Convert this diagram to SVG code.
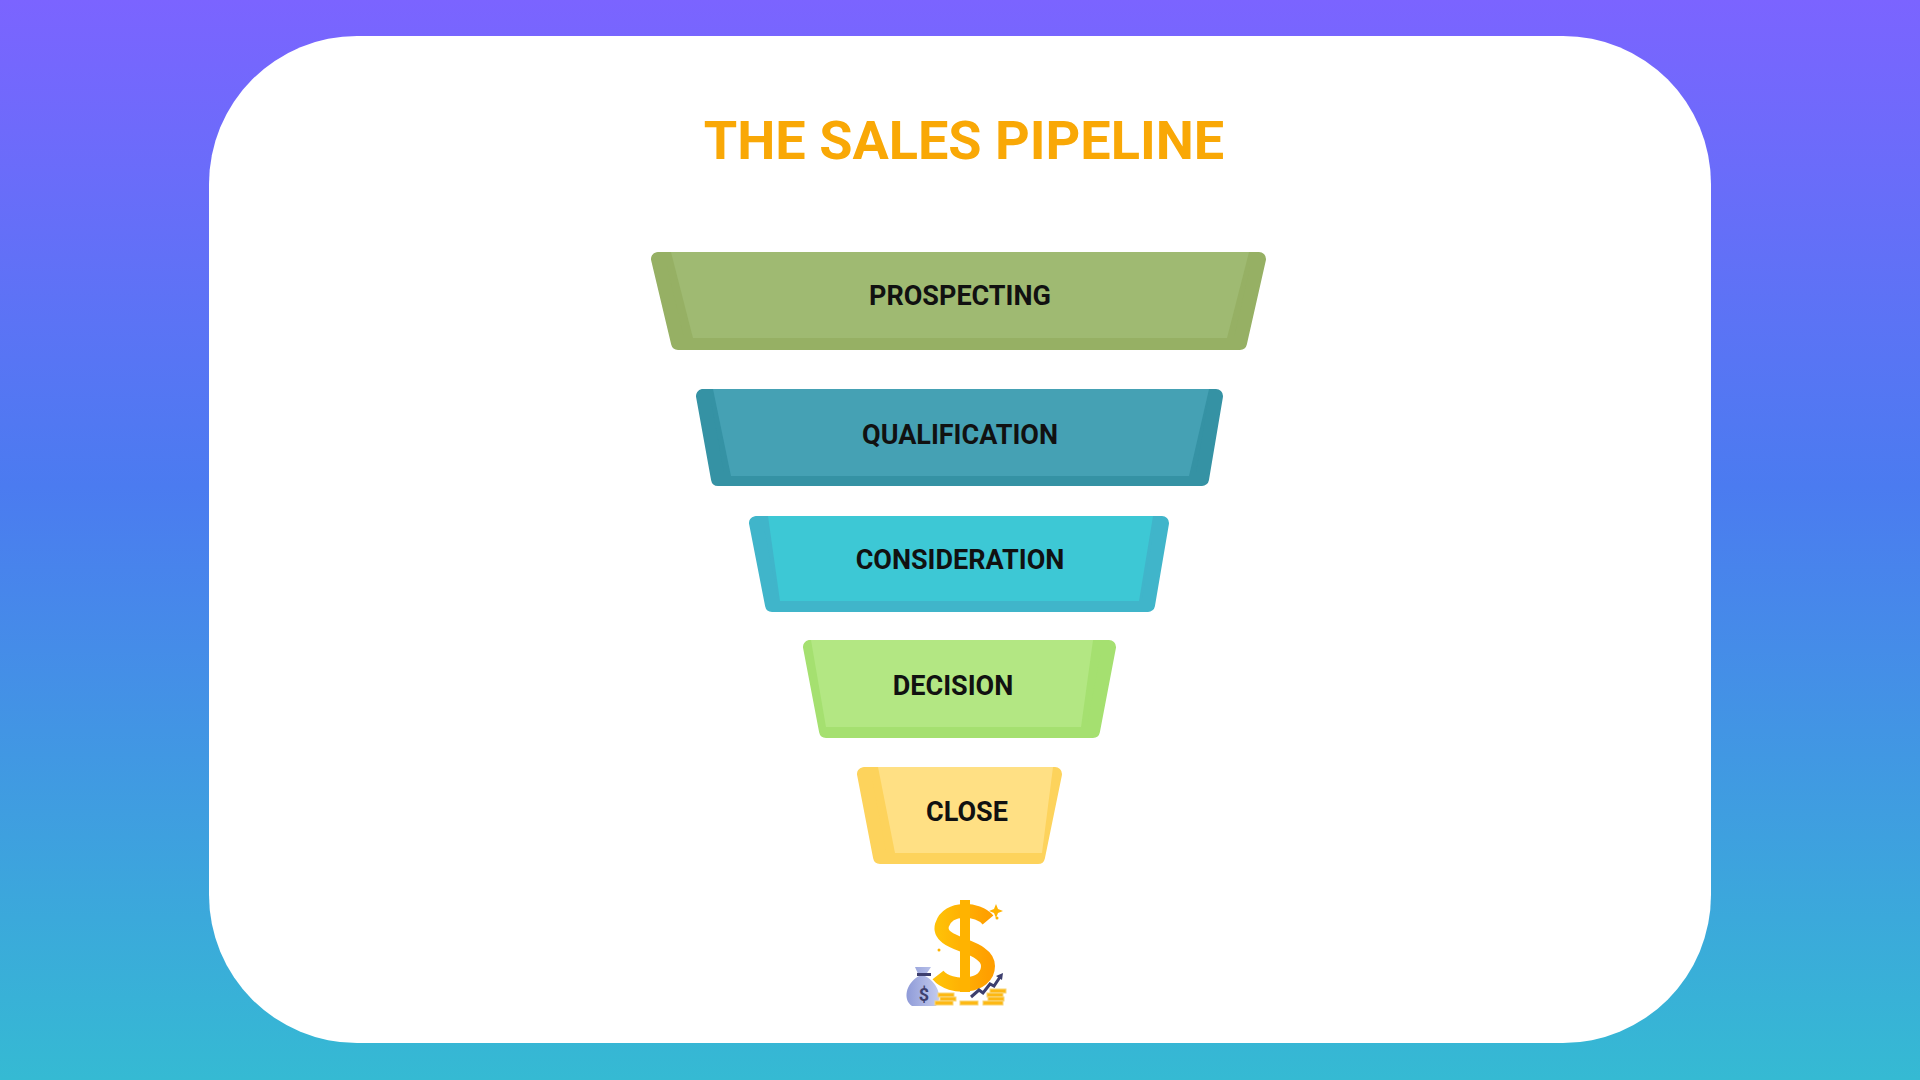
<svg xmlns="http://www.w3.org/2000/svg" width="1920" height="1080" viewBox="0 0 1920 1080">
<defs>
<linearGradient id="bg" x1="0" y1="0" x2="0" y2="1"><stop offset="0" stop-color="#7B64FF"/><stop offset="0.45" stop-color="#4B7BF0"/><stop offset="1" stop-color="#35BAD3"/></linearGradient>
<linearGradient id="gold" x1="0" y1="0" x2="1" y2="0"><stop offset="0" stop-color="#FFC107"/><stop offset="1" stop-color="#FF9F00"/></linearGradient>
<linearGradient id="bag" x1="0" y1="0" x2="1" y2="0"><stop offset="0" stop-color="#8F9BD8"/><stop offset="1" stop-color="#C3CBEE"/></linearGradient>
</defs>
<style>
.lbl{font-family:Roboto,"Liberation Sans",sans-serif;font-weight:700;font-size:27px;fill:#111;text-anchor:middle;dominant-baseline:central}
.o{stroke-linejoin:round;stroke-width:14}
.coin{fill:#FDB813;stroke:#F7D57A;stroke-width:1}
</style>
<rect width="1920" height="1080" fill="url(#bg)"/>
<rect x="209" y="36" width="1502" height="1007" rx="148" fill="#fff"/>
<text x="964" y="140" font-family="Roboto,'Liberation Sans',sans-serif" font-weight="700" font-size="54" fill="#F9A806" text-anchor="middle" dominant-baseline="central">THE SALES PIPELINE</text>
<g id="prospecting">
<polygon class="o" points="658,259 1259,259 1240,343 678,343" fill="#96B064" stroke="#96B064"/>
<polygon points="671,252 1249,252 1227,338 693,338" fill="#9FBA72"/>
<text class="lbl" x="960" y="296">PROSPECTING</text>
</g>
<g id="qualification">
<polygon class="o" points="703,396 1216,396 1202,479 718,479" fill="#3592A4" stroke="#3592A4"/>
<polygon points="713,389 1209,389 1189,476 731,476" fill="#45A1B4"/>
<text class="lbl" x="960" y="435">QUALIFICATION</text>
</g>
<g id="consideration">
<polygon class="o" points="756,523 1162,523 1148,605 772,605" fill="#40B5CA" stroke="#40B5CA"/>
<polygon points="768,516 1153,516 1139,601 780,601" fill="#3DC8D5"/>
<text class="lbl" x="960" y="560">CONSIDERATION</text>
</g>
<g id="decision">
<polygon class="o" points="810,647 1109,647 1093,731 826,731" fill="#A5E070" stroke="#A5E070"/>
<polygon points="811,640 1093,640 1081,727 826,727" fill="#B3E783"/>
<text class="lbl" x="953" y="686">DECISION</text>
</g>
<g id="close">
<polygon class="o" points="864,774 1055,774 1038,857 880,857" fill="#FDD35C" stroke="#FDD35C"/>
<polygon points="878,767 1053,767 1042,853 895,853" fill="#FFE084"/>
<text class="lbl" x="967" y="812">CLOSE</text>
</g>
<g id="money-icon">
<path d="M988,920 C978,908 948,906 942,925 C936,946 988,944 988,966 C988,988 950,990 938,975" fill="none" stroke="url(#gold)" stroke-width="14" stroke-linecap="butt"/>
<rect x="960" y="900" width="10" height="92" fill="#FFB300"/>
<path d="M994,909 l2,-5 2,5 5,2 -5,2 -2,5 -2,-5 -5,-2z" fill="#FFB300"/>
<circle cx="997" cy="918" r="1.5" fill="#FFB300"/>
<circle cx="939" cy="950" r="1.5" fill="#FFB300"/>
<path d="M915,967 L931,967 L925,976 C940,984 942,1000 936,1006 L912,1006 C903,1000 905,984 919,976z" fill="url(#bag)"/>
<rect x="917" y="973" width="14" height="3" fill="#3D3F6E"/>
<text x="924" y="994" font-family="Roboto,sans-serif" font-weight="700" font-size="18" fill="#3D3F6E" text-anchor="middle" dominant-baseline="central">$</text>
<rect class="coin" x="938" y="993" width="16" height="4"/><rect class="coin" x="940" y="997" width="16" height="4"/><rect class="coin" x="935" y="1001" width="18" height="4"/>
<rect class="coin" x="960" y="1001" width="18" height="4"/>
<rect class="coin" x="990" y="989" width="16" height="4"/><rect class="coin" x="987" y="993" width="16" height="4"/><rect class="coin" x="988" y="997" width="16" height="4"/><rect class="coin" x="983" y="1001" width="20" height="4"/>
<polyline points="971,997 979,990 983,993 990,984 994,986 1000,977" fill="none" stroke="#3D3F6E" stroke-width="3"/>
<polygon points="996,976 1003,973 1002,980" fill="#3D3F6E"/>
</g>
</svg>
